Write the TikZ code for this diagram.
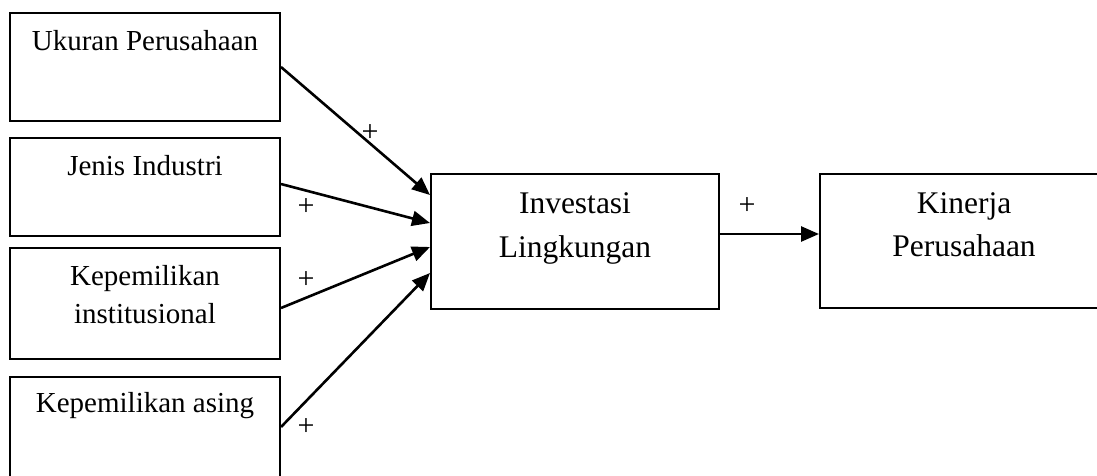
\documentclass[tikz,border=0pt]{standalone}
\usepackage{fontspec}
\setmainfont{Liberation Serif}
\usetikzlibrary{arrows.meta,calc}
\tikzset{
  box/.style={draw, line width=2pt, rectangle, inner sep=0pt, anchor=north west},
  lefttxt/.style={anchor=base, inner sep=0pt, align=center, font=\fontsize{29}{38}\selectfont},
  bigtxt/.style={anchor=base, inner sep=0pt, align=center, font=\fontsize{31.5}{44}\selectfont},
  plus/.style={inner sep=0pt, font=\fontsize{30}{34}\selectfont},
  conn/.style={line width=2.6pt, -{Triangle[length=18pt,width=15pt]}}
}
\begin{document}
\begin{tikzpicture}[x=1pt,y=1pt]
\clip (0,0) rectangle (1097,-475);
\fill[white] (0,0) rectangle (1097,-475);
% left boxes
\node[box, minimum width=270pt, minimum height=108pt] (b1) at (9,-12) {};
\node[box, minimum width=270pt, minimum height=98pt] (b2) at (9,-137) {};
\node[box, minimum width=270pt, minimum height=111pt] (b3) at (9,-247) {};
\node[box, minimum width=270pt, minimum height=108pt] (b4) at (9,-376) {};
% middle and right boxes
\node[box, minimum width=288pt, minimum height=135pt] (mid) at (430,-173) {};
\node[box, minimum width=290pt, minimum height=134pt] (kin) at (819,-173) {};
% texts
\node[lefttxt] (t1) at ($(b1.north)+(0,-38)$) {Ukuran Perusahaan};
\node[lefttxt] (t2) at ($(b2.north)+(0,-38)$) {Jenis Industri};
\node[lefttxt] (t3) at ($(b3.north)+(0,-38)$) {Kepemilikan};
\node[lefttxt] (t3b) at ($(b3.north)+(0,-76)$) {institusional};
\node[lefttxt] (t4) at ($(b4.north)+(0,-36)$) {Kepemilikan asing};
\node[bigtxt] (tm1) at ($(mid.north)+(0,-40)$) {Investasi};
\node[bigtxt] (tm2) at ($(mid.north)+(0,-84)$) {Lingkungan};
\node[bigtxt] (tk1) at (964,-213) {Kinerja};
\node[bigtxt] (tk2) at (964,-256) {Perusahaan};
% arrow end points
\coordinate (e1) at ($(mid.north west)+(0,-22)$);
\coordinate (e2) at ($(mid.north west)+(0,-50)$);
\coordinate (e3) at ($(mid.north west)+(0,-74)$);
\coordinate (e4) at ($(mid.north west)+(0,-100)$);
\coordinate (s1) at ($(b1.north east)+(0,-55)$);
\coordinate (s2) at ($(b2.north east)+(0,-47)$);
\coordinate (s3) at ($(b3.north east)+(0,-61)$);
\coordinate (s4) at ($(b4.north east)+(0,-51)$);
\coordinate (m1) at ($(mid.north east)+(0,-61)$);
\draw[conn] (s1) -- (e1);
\draw[conn] (s2) -- (e2);
\draw[conn] (s3) -- (e3);
\draw[conn] (s4) -- (e4);
\draw[conn] (m1) -- (m1 -| kin.west);
% plus labels
\node[plus] (p1) at (370,-133) {+};
\node[plus] (p2) at (306,-207) {+};
\node[plus] (p3) at (306,-280) {+};
\node[plus] (p4) at (306,-427) {+};
\node[plus] (p5) at (747,-206) {+};
\end{tikzpicture}
\end{document}
